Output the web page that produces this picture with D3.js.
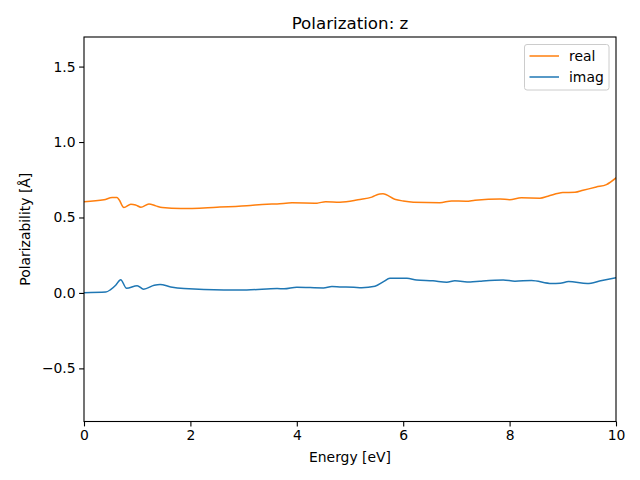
<!DOCTYPE html>
<html><head><meta charset="utf-8">
<script src="https://cdn.jsdelivr.net/npm/d3@7"></script>
<style>body{margin:0;background:#fff}svg{display:block}text{font-family:"DejaVu Sans",sans-serif}</style>
</head><body><svg id="c" width="640" height="480"></svg>
<script>
const title = "Polarization: z";
const xLabel = "Energy [eV]";
const yLabel = "Polarizability [Å]";
const xTicks = [0, 2, 4, 6, 8, 10];
const yTicks = [-0.5, 0.0, 0.5, 1.0, 1.5];
const seriesNames = ["real", "imag"];
const realE = [0, 0.376, 0.53, 0.62, 0.66, 0.75, 0.88, 0.97, 1.07, 1.22, 1.35, 1.47, 1.82, 2.5, 3.06, 3.44, 3.63, 3.91, 4.38, 4.54, 4.81, 5.08, 5.15, 5.41, 5.56, 5.62, 5.84, 6.0, 6.19, 6.69, 6.91, 7.18, 7.35, 7.82, 8.0, 8.22, 8.57, 8.72, 9.0, 9.23, 9.38, 9.63, 9.82, 10.0];
const realV = [0.605, 0.617, 0.632, 0.632, 0.617, 0.566, 0.588, 0.583, 0.568, 0.590, 0.577, 0.566, 0.559, 0.568, 0.578, 0.588, 0.590, 0.597, 0.595, 0.605, 0.601, 0.612, 0.617, 0.635, 0.656, 0.657, 0.621, 0.609, 0.601, 0.598, 0.610, 0.608, 0.614, 0.622, 0.618, 0.630, 0.628, 0.641, 0.665, 0.667, 0.680, 0.702, 0.718, 0.762];
const imagE = [0, 0.41, 0.5, 0.6, 0.69, 0.80, 1.0, 1.12, 1.32, 1.43, 1.63, 1.88, 2.63, 3.06, 3.63, 3.76, 4.0, 4.5, 4.66, 4.81, 5.07, 5.22, 5.47, 5.63, 5.75, 6.07, 6.25, 6.56, 6.82, 6.97, 7.26, 7.44, 7.88, 8.1, 8.41, 8.79, 8.95, 9.11, 9.46, 9.71, 10.0];
const imagV = [0.002, 0.006, 0.022, 0.053, 0.088, 0.031, 0.048, 0.025, 0.051, 0.056, 0.040, 0.029, 0.020, 0.020, 0.029, 0.027, 0.038, 0.033, 0.042, 0.040, 0.038, 0.035, 0.044, 0.075, 0.097, 0.097, 0.086, 0.080, 0.071, 0.080, 0.073, 0.078, 0.086, 0.078, 0.082, 0.062, 0.064, 0.075, 0.062, 0.080, 0.101];
const colors = ["#ff7f0e", "#1f77b4"];

const svg = d3.select("#c");
const L = 84, R = 616, T = 37, B = 421.5;
const x = d3.scaleLinear().domain([0, 10]).range([L, R]);
const y = d3.scaleLinear().domain([-0.852, 1.696]).range([B, T]);

svg.append("clipPath").attr("id", "cl").append("rect")
  .attr("x", L).attr("y", T).attr("width", R - L).attr("height", B - T);

const line = d3.line().x(d => x(d[0])).y(d => y(d[1])).curve(d3.curveMonotoneX);
const data = [d3.zip(realE, realV), d3.zip(imagE, imagV)];
data.forEach((d, i) => {
  svg.append("path").datum(d).attr("d", line).attr("fill", "none")
    .attr("stroke", colors[i]).attr("stroke-width", 1.5).attr("clip-path", "url(#cl)")
    .attr("stroke-linejoin", "round").attr("stroke-linecap", "square");
});

const fmt = v => (v < 0 ? "\u2212" : "") + Math.abs(v).toFixed(1);
const xa = svg.append("g").attr("transform", `translate(0,${B})`)
  .call(d3.axisBottom(x).tickValues(xTicks).tickFormat(d3.format("d")).tickSize(4.9).tickPadding(3.5));
const ya = svg.append("g").attr("transform", `translate(${L},0)`)
  .call(d3.axisLeft(y).tickValues(yTicks).tickFormat(fmt).tickSize(4.9).tickPadding(3.5));
[xa, ya].forEach(a => {
  a.select(".domain").remove();
  a.selectAll("line").attr("stroke", "#000").attr("stroke-width", 1.1);
  a.selectAll("text").attr("font-size", 13.9).attr("fill", "#000").attr("font-family", "DejaVu Sans");
});

svg.append("rect").attr("x", L).attr("y", T).attr("width", R - L).attr("height", B - T)
  .attr("fill", "none").attr("stroke", "#000").attr("stroke-width", 1.1);

svg.append("text").attr("x", (L + R) / 2).attr("y", T - 8.5).attr("text-anchor", "middle")
  .attr("font-size", 16.7).text(title);
svg.append("text").attr("x", (L + R) / 2).attr("y", 462).attr("text-anchor", "middle")
  .attr("font-size", 13.9).text(xLabel);
svg.append("text").attr("transform", `translate(30,${(T + B) / 2}) rotate(-90)`).attr("text-anchor", "middle")
  .attr("font-size", 13.9).text(yLabel);

const lg = svg.append("g");
lg.append("rect").attr("x", 524.5).attr("y", 44.5).attr("width", 84.5).attr("height", 45.5)
  .attr("rx", 2.5).attr("fill", "#fff").attr("fill-opacity", 0.8).attr("stroke", "#ccc").attr("stroke-width", 1);
seriesNames.forEach((n, i) => {
  const yy = 56 + i * 21;
  lg.append("line").attr("x1", 529.5).attr("x2", 559).attr("y1", yy).attr("y2", yy)
    .attr("stroke", colors[i]).attr("stroke-width", 1.5);
  lg.append("text").attr("x", 569).attr("y", yy + 5).attr("font-size", 13.9).text(n);
});
</script></body></html>
